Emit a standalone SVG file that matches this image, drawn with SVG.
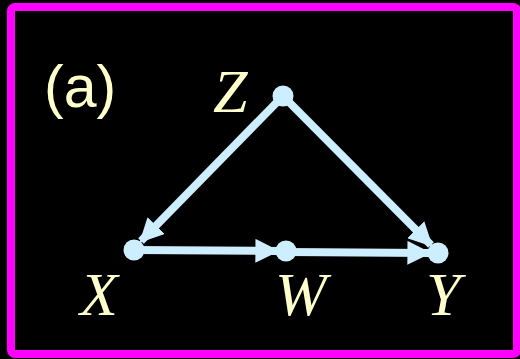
<svg xmlns="http://www.w3.org/2000/svg" width="520" height="359" viewBox="0 0 520 359">
<defs>
<style>
.edge{stroke:#cceeff;stroke-width:8;fill:none}
.node{fill:#cceeff}
.lbl{font-family:"Liberation Serif",serif;font-style:italic;font-size:62px;fill:#ffffcc}
</style>
<marker id="ah" viewBox="0 0 10 10" refX="9" refY="5" markerWidth="3" markerHeight="3" orient="auto" markerUnits="strokeWidth">
<path d="M0,0 L10,5 L0,10 z" fill="#cceeff"/>
</marker>
</defs>
<rect x="0" y="0" width="520" height="359" fill="#000"/>
<rect x="11" y="7" width="506" height="347" rx="4" fill="none" stroke="#ff00ff" stroke-width="8"/>
<text x="44" y="107" font-family="Liberation Sans,Arial,sans-serif" font-size="59" fill="#ffffcc">(a)</text>
<g id="edges">
<line class="edge" x1="283" y1="96" x2="141" y2="241" marker-end="url(#ah)"/>
<line class="edge" x1="283" y1="96" x2="431" y2="245" marker-end="url(#ah)"/>
<line class="edge" x1="134" y1="250" x2="277" y2="251" marker-end="url(#ah)"/>
<line class="edge" x1="286" y1="252" x2="429" y2="253" marker-end="url(#ah)"/>
</g>
<g id="Z"><circle class="node" cx="283" cy="96" r="10.5"/><text class="lbl" x="213" y="112">Z</text></g>
<g id="X"><circle class="node" cx="134" cy="250" r="10.5"/><text class="lbl" x="80" y="315">X</text></g>
<g id="W"><circle class="node" cx="286" cy="251" r="10.5"/><text class="lbl" x="275" y="315">W</text></g>
<g id="Y"><circle class="node" cx="438" cy="253" r="10.5"/><text class="lbl" x="426" y="315">Y</text></g>
</svg>
